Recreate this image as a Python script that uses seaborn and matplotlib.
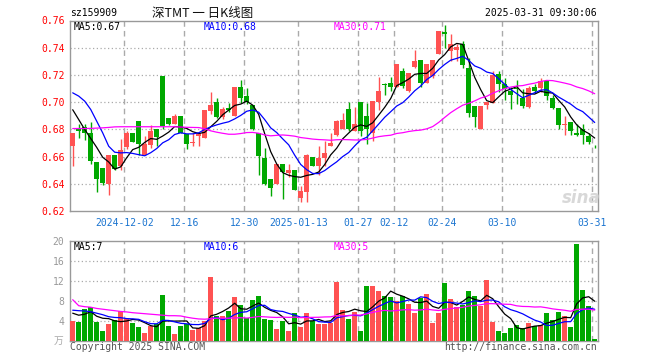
import numpy as np
import pandas as pd
import matplotlib
matplotlib.use("Agg")
import matplotlib.pyplot as plt
import seaborn as sns

# ---------------- data ----------------
opens = [0.6682, 0.6812, 0.6817, 0.6775, 0.6562, 0.6518, 0.6403, 0.6614, 0.6530, 0.6670,
         0.6775, 0.6861, 0.6616, 0.6685, 0.6805, 0.7194, 0.6886, 0.6837, 0.6900, 0.6768,
         0.6704, 0.6751, 0.6734, 0.6939, 0.7003, 0.6890, 0.6955, 0.6898, 0.7113, 0.7045,
         0.6979, 0.6775, 0.6592, 0.6437, 0.6403, 0.6550, 0.6481, 0.6506, 0.6298, 0.6342,
         0.6599, 0.6530, 0.6592, 0.6677, 0.6758, 0.6805, 0.6952, 0.6788, 0.7003, 0.6898,
         0.6775, 0.7003, 0.7133, 0.7138, 0.7111, 0.7229, 0.7086, 0.7258, 0.7307, 0.7143,
         0.7192, 0.7356, 0.7518, 0.7376, 0.7380, 0.7429, 0.7248, 0.6971, 0.6807, 0.6983,
         0.6996, 0.7209, 0.7131, 0.7082, 0.7106, 0.7033, 0.6964, 0.7111, 0.7106, 0.7155,
         0.7033, 0.6954, 0.6832, 0.6856, 0.6775, 0.6805, 0.6751, 0.6682]
highs = [0.6776, 0.6841, 0.6841, 0.6856, 0.6562, 0.6518, 0.6614, 0.6614, 0.6731, 0.6787,
         0.6775, 0.6861, 0.6751, 0.6832, 0.6805, 0.7194, 0.6886, 0.6915, 0.6900, 0.6768,
         0.6775, 0.6775, 0.6942, 0.7077, 0.7033, 0.6964, 0.6996, 0.7113, 0.7160, 0.7101,
         0.6979, 0.6775, 0.6665, 0.6437, 0.6550, 0.6550, 0.6550, 0.6506, 0.6385, 0.6621,
         0.6599, 0.6677, 0.6714, 0.6775, 0.6873, 0.6922, 0.7003, 0.6964, 0.7003, 0.6996,
         0.7008, 0.7184, 0.7143, 0.7184, 0.7278, 0.7248, 0.7216, 0.7380, 0.7307, 0.7278,
         0.7307, 0.7523, 0.7567, 0.7498, 0.7429, 0.7449, 0.7327, 0.6971, 0.6971, 0.7003,
         0.7229, 0.7229, 0.7180, 0.7113, 0.7162, 0.7094, 0.7118, 0.7131, 0.7175, 0.7155,
         0.7050, 0.6954, 0.6898, 0.6856, 0.6837, 0.6837, 0.6775, 0.6685]
lows = [0.6534, 0.6738, 0.6726, 0.6550, 0.6339, 0.6396, 0.6322, 0.6506, 0.6506, 0.6660,
        0.6709, 0.6611, 0.6616, 0.6665, 0.6677, 0.6800, 0.6830, 0.6837, 0.6775, 0.6660,
        0.6677, 0.6677, 0.6734, 0.6910, 0.6881, 0.6876, 0.6930, 0.6898, 0.6995, 0.6988,
        0.6795, 0.6469, 0.6396, 0.6310, 0.6403, 0.6293, 0.6450, 0.6354, 0.6268, 0.6268,
        0.6530, 0.6469, 0.6530, 0.6677, 0.6751, 0.6805, 0.6790, 0.6788, 0.6751, 0.6694,
        0.6714, 0.6940, 0.7052, 0.7086, 0.7111, 0.7101, 0.7077, 0.7253, 0.7111, 0.7143,
        0.7180, 0.7356, 0.7400, 0.7302, 0.7302, 0.7253, 0.6890, 0.6819, 0.6800, 0.6947,
        0.6996, 0.7077, 0.7020, 0.6947, 0.6988, 0.6954, 0.6960, 0.7070, 0.7077, 0.7013,
        0.6947, 0.6807, 0.6758, 0.6758, 0.6750, 0.6694, 0.6694, 0.6665]
closes = [0.6773, 0.6788, 0.6775, 0.6567, 0.6440, 0.6410, 0.6614, 0.6513, 0.6650, 0.6775,
          0.6709, 0.6697, 0.6694, 0.6792, 0.6746, 0.6829, 0.6841, 0.6900, 0.6775, 0.6694,
          0.6709, 0.6775, 0.6942, 0.6979, 0.6893, 0.6952, 0.6945, 0.7113, 0.7028, 0.7001,
          0.6807, 0.6604, 0.6403, 0.6371, 0.6550, 0.6489, 0.6506, 0.6354, 0.6347, 0.6616,
          0.6530, 0.6592, 0.6628, 0.6702, 0.6861, 0.6873, 0.6805, 0.6841, 0.6788, 0.6805,
          0.7008, 0.7086, 0.7126, 0.7111, 0.7278, 0.7118, 0.7216, 0.7302, 0.7143, 0.7278,
          0.7307, 0.7523, 0.7498, 0.7425, 0.7405, 0.7273, 0.6922, 0.6890, 0.6971, 0.7003,
          0.7199, 0.7135, 0.7094, 0.7050, 0.7094, 0.6971, 0.7101, 0.7082, 0.7155, 0.7045,
          0.6954, 0.6832, 0.6841, 0.6788, 0.6756, 0.6758, 0.6709, 0.6675]
volumes = [4.0, 3.73, 6.33, 6.67, 3.73, 2.0, 3.33, 4.13, 5.87, 4.4,
           3.53, 2.73, 1.53, 2.87, 3.33, 9.13, 2.93, 1.33, 3.0, 3.33,
           2.2, 2.5, 4.0, 12.73, 5.0, 5.0, 6.0, 8.73, 7.2, 4.53,
           8.2, 9.0, 4.4, 4.2, 2.4, 3.87, 2.0, 5.53, 2.8, 5.53,
           4.0, 3.4, 3.4, 3.55, 11.75, 6.15, 4.33, 5.75, 1.93, 10.93,
           10.93, 10.0, 8.93, 8.8, 7.85, 8.93, 7.33, 5.53, 8.5, 9.33,
           3.53, 5.53, 11.53, 8.33, 6.7, 7.2, 10.0, 9.0, 7.0, 12.2,
           3.8, 2.0, 1.6, 2.53, 3.07, 2.5, 3.53, 2.95, 3.07, 5.5,
           4.13, 5.75, 4.9, 2.75, 19.33, 10.1, 6.9, 0.4]

# moving-average values at the start, where the window reaches before the shown data
price_ma5_head = [0.6945, 0.6873, 0.6800, 0.6734]
price_ma10_head = [0.7069, 0.7045, 0.7008, 0.6947, 0.6861, 0.6775, 0.6677, 0.6633, 0.6628]
price_ma30_head = [0.6807, 0.6807, 0.6807, 0.6808, 0.6810, 0.6812, 0.6815, 0.6819, 0.6820, 0.6820,
                   0.6820, 0.6820, 0.6820, 0.6820, 0.6820, 0.6820, 0.6820, 0.6820, 0.6818, 0.6816,
                   0.6815, 0.6814, 0.6805, 0.6790, 0.6780, 0.6772, 0.6765, 0.6765, 0.6770]
vol_ma5_head = [5.5, 5.1, 5.3, 5.8]
vol_ma10_head = [6.1, 6.0, 5.95, 5.8, 5.5, 5.2, 4.8, 4.65, 4.6]
vol_ma30_head = [8.2, 7.0, 6.8, 6.7, 6.45, 6.3, 6.15, 6.0, 5.85, 5.75,
                 5.6, 5.5, 5.4, 5.3, 5.2, 5.1, 5.0, 5.0, 4.95, 4.7,
                 4.5, 4.35, 4.3, 4.4, 4.5, 4.5, 4.5, 4.55, 4.6]

tick_idx = [9, 19, 29, 38, 48, 54, 62, 72, 87]
tick_labels = ["2024-12-02", "12-16", "12-30", "2025-01-13", "01-27",
               "02-12", "02-24", "03-10", "03-31"]
price_ticks = [0.62, 0.64, 0.66, 0.68, 0.70, 0.72, 0.74, 0.76]
vol_ticks = [0, 4, 8, 12, 16, 20]
vol_tick_labels = ["", "4", "8", "12", "16", "20"]

code = "sz159909"
title = "深TMT 一 日K线图"
stamp = "2025-03-31 09:30:06"
price_legend = ["MA5:0.67", "MA10:0.68", "MA30:0.71"]
vol_legend = ["MA5:7", "MA10:6", "MA30:5"]

# ---------------- style ----------------
RED = "#ff5252"
GREEN = "#00a800"
GRID = "#aaaaaa"
FRAME = "#999999"
MA_COLORS = ["#000000", "#0000ff", "#ff00ff"]
MONO = "DejaVu Sans Mono"

sns.set_theme(style="white")
plt.rcParams["font.family"] = [MONO, "Noto Sans CJK SC"]

df = pd.DataFrame({"i": np.arange(len(closes)), "open": opens, "high": highs,
                   "low": lows, "close": closes, "vol": volumes})
df["dir"] = np.where(df["close"] >= df["open"], "up", "down")
colors = np.where(df["dir"] == "up", RED, GREEN)


def moving(series, w, head):
    m = series.rolling(w).mean()
    m.iloc[:w - 1] = head
    return m


W, H = 660, 360
fig = plt.figure(figsize=(W / 100, H / 100), dpi=100)
fig.patch.set_facecolor("white")


def fx(x):
    return x / W


def fy(y):
    return 1 - y / H


axp = fig.add_axes([fx(70), fy(211.2), (598 - 70) / W, 190.7 / H])
axv = fig.add_axes([fx(70), fy(340.7), (598 - 70) / W, 100 / H])

# ---------------- price panel ----------------
body = (df["close"] - df["open"]).to_numpy()
body = np.where(np.abs(body) < 0.0006, 0.0006, body)
axp.vlines(df["i"], df["low"], df["high"], colors=colors, lw=1, zorder=3)
axp.bar(df["i"], body, bottom=df["open"], width=0.8, color=colors, lw=0, zorder=4)

for w, head, c in zip([5, 10, 30], [price_ma5_head, price_ma10_head, price_ma30_head], MA_COLORS):
    sns.lineplot(x=df["i"], y=moving(df["close"], w, head), color=c, lw=0.9,
                 ax=axp, legend=False, zorder=5)

# ---------------- volume panel ----------------
sns.barplot(data=df, x="i", y="vol", hue="dir", palette={"up": RED, "down": GREEN},
            native_scale=True, dodge=False, width=0.8, errorbar=None, legend=False,
            saturation=1, linewidth=0, ax=axv, zorder=3)
for w, head, c in zip([5, 10, 30], [vol_ma5_head, vol_ma10_head, vol_ma30_head], MA_COLORS):
    sns.lineplot(x=df["i"], y=moving(df["vol"], w, head), color=c, lw=0.9,
                 ax=axv, legend=False, zorder=5)

# ---------------- axes decoration ----------------
for ax in (axp, axv):
    ax.set_xlim(-0.45, len(closes) - 0.45)
    ax.set_xlabel("")
    ax.set_ylabel("")
    ax.set_facecolor("white")
    for s in ax.spines.values():
        s.set_color(FRAME)
        s.set_linewidth(1)
    ax.set_xticks([t - 0.4 for t in tick_idx])
    ax.tick_params(length=0)
    ax.grid(False)
    for t in tick_idx:
        ax.axvline(t - 0.4, color=GRID, lw=1, ls=(0, (4, 3)), zorder=1)

axp.set_ylim(0.62, 0.76)
axp.set_yticks(price_ticks)
axp.set_yticklabels([f"{v:.2f}" for v in price_ticks], color="#ff0000", fontsize=7)
for v in price_ticks[1:-1]:
    axp.axhline(v, color=GRID, lw=0.9, ls=(0, (1, 2)), zorder=1)
axp.set_xticklabels(tick_labels, color="#1a74d0", fontsize=7)
axp.tick_params(axis="x", pad=5)
axp.tick_params(axis="y", pad=4)

axv.set_ylim(0, 20)
axv.set_yticks(vol_ticks)
axv.set_yticklabels(vol_tick_labels, color="#999999", fontsize=7)
axv.tick_params(axis="y", pad=4)
axv.set_xticklabels([])
for v in vol_ticks[1:-1]:
    axv.axhline(v, color=GRID, lw=0.9, ls=(0, (1, 2)), zorder=1)

# ---------------- texts ----------------
fig.text(fx(70), fy(13), code, fontsize=7, color="#000000", va="center", ha="left")
fig.text(fx(203), fy(13), title, fontsize=9, color="#111111", va="center", ha="center",
         family=["Noto Sans CJK SC", MONO])
fig.text(fx(597), fy(13), stamp, fontsize=7, color="#000000", va="center", ha="right")

for x0, txt, c in zip([74, 204, 334], price_legend, MA_COLORS):
    fig.text(fx(x0), fy(26.5), txt, fontsize=7, color=c, va="center", ha="left")
for x0, txt, c in zip([74, 204, 334], vol_legend, MA_COLORS):
    fig.text(fx(x0), fy(246.5), txt, fontsize=7, color=c, va="center", ha="left")

fig.text(fx(63), fy(341), "万", fontsize=7, color="#aaaaaa", va="center", ha="right",
         family=["Noto Sans CJK SC", MONO])
fig.text(fx(70), fy(346.5), "Copyright 2025 SINA.COM", fontsize=7, color="#555555",
         va="center", ha="left")
fig.text(fx(597), fy(346.5), "http://finance.sina.com.cn", fontsize=7, color="#555555",
         va="center", ha="right")
fig.text(fx(581), fy(198), "sina", fontsize=12, color="#d8d8d8", va="center", ha="center",
         style="italic", weight="bold", family="DejaVu Sans", zorder=0)

fig.savefig("out.png", dpi=100, facecolor="white")
